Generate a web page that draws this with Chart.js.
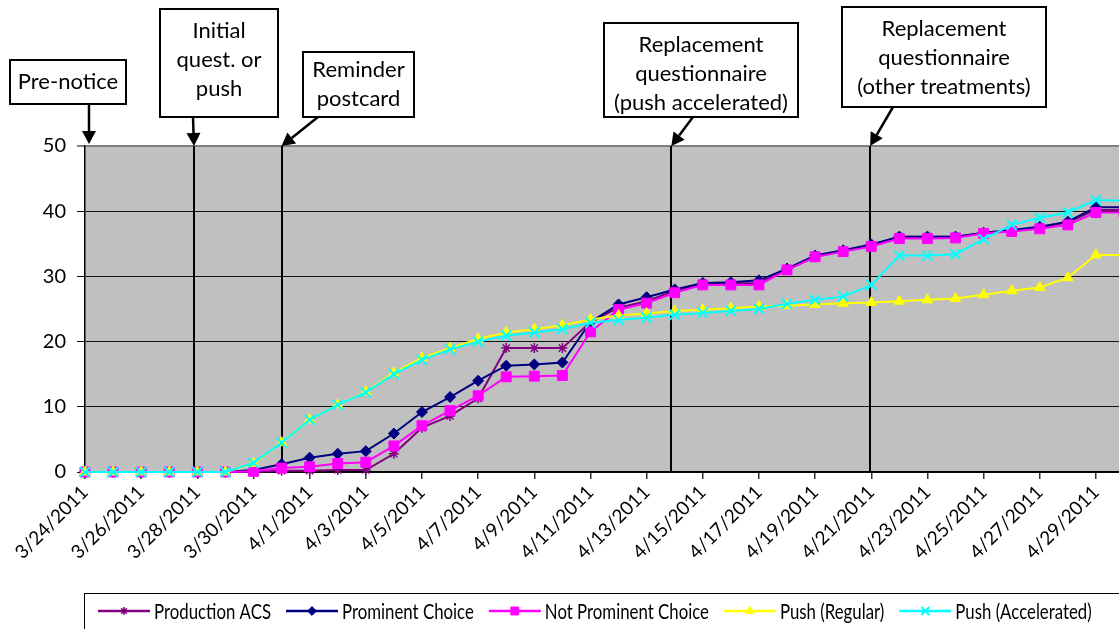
<!DOCTYPE html>
<html><head><meta charset="utf-8">
<script src="https://cdn.jsdelivr.net/npm/chart.js@4.4.0/dist/chart.umd.min.js"></script>
<style>
html,body{margin:0;padding:0;overflow:hidden;background:#fff;width:1119px;height:629px}
canvas{display:block}
</style></head>
<body><canvas id="c" width="1150" height="629"></canvas>
<script>
const dates = ['3/24/2011','3/25/2011','3/26/2011','3/27/2011','3/28/2011','3/29/2011','3/30/2011','3/31/2011',
  '4/1/2011','4/2/2011','4/3/2011','4/4/2011','4/5/2011','4/6/2011','4/7/2011','4/8/2011','4/9/2011','4/10/2011',
  '4/11/2011','4/12/2011','4/13/2011','4/14/2011','4/15/2011','4/16/2011','4/17/2011','4/18/2011','4/19/2011',
  '4/20/2011','4/21/2011','4/22/2011','4/23/2011','4/24/2011','4/25/2011','4/26/2011','4/27/2011','4/28/2011',
  '4/29/2011','4/30/2011'];

const productionACS = [0,0,0,0,0,0,0,0.2,0.2,0.3,0.3,2.8,6.8,8.6,11.3,19.0,19.0,19.0,23.0,25.2,26.2,27.8,28.9,28.9,29.0,
  31.0,33.0,33.9,34.8,36.1,36.1,36.1,36.6,37.0,37.5,38.3,40.2,40.2];
const prominentChoice = [0,0,0,0,0,0,0.3,1.2,2.2,2.8,3.2,5.9,9.2,11.5,14.0,16.3,16.5,16.8,23.0,25.7,26.8,28.0,29.0,29.1,29.4,
  31.2,33.2,34.0,34.9,36.1,36.1,36.1,36.7,37.1,37.6,38.4,40.6,40.6];
const notProminentChoice = [0,0,0,0,0,0,0.1,0.6,0.8,1.3,1.5,4.0,7.1,9.4,11.7,14.6,14.7,14.8,21.5,24.9,25.9,27.5,28.7,28.7,28.7,
  31.0,33.0,33.8,34.6,35.8,35.8,35.9,36.6,36.9,37.3,37.9,39.8,39.8];
const pushRegular = [0,0,0,0,0,0,1.3,4.5,8.0,10.3,12.3,15.2,17.5,19.0,20.4,21.4,21.9,22.5,23.4,24.0,24.3,24.7,24.9,25.1,25.4,
  25.5,25.7,25.9,26.0,26.2,26.4,26.6,27.2,27.8,28.3,29.8,33.3,33.3];
const pushAccelerated = [0,0,0,0,0,0,1.4,4.5,8.0,10.3,12.2,15.0,17.2,18.8,20.0,20.9,21.4,21.9,22.9,23.3,23.7,24.1,24.4,24.7,25.0,
  25.8,26.4,26.9,28.7,33.2,33.2,33.4,35.7,37.9,39.0,39.8,41.7,41.6];

const seriesNames = ['Production ACS','Prominent Choice','Not Prominent Choice','Push (Regular)','Push (Accelerated)'];
const yTicks = [0,10,20,30,40,50];

// mailing events: label lines and position on the day axis (index into dates)
const eventLabels = [['Pre-notice'],['Initial','quest. or','push'],['Reminder','postcard'],
  ['Replacement','questionnaire','(push accelerated)'],['Replacement','questionnaire','(other treatments)']];
const eventPositions = [0, 3.88, 7.0, 20.88, 27.96];

const FONT = 'Lato, "Open Sans", sans-serif';

const styles = [
  {color:'#800080', point:'star', r:5, pbw:1.5},
  {color:'#000080', point:'rectRot', r:5.5, pbw:1},
  {color:'#FF00FF', point:'rect', r:7, pbw:1},
  {color:'#FFFF00', point:'triangle', r:6, pbw:1},
  {color:'#00FFFF', point:'crossRot', r:7, pbw:2}
];
const seriesData = [productionACS, prominentChoice, notProminentChoice, pushRegular, pushAccelerated];

const datasets = seriesNames.map((n,i)=>({
  label:n, data:seriesData[i], borderColor:styles[i].color, backgroundColor:styles[i].color,
  borderWidth:2, pointStyle:styles[i].point, pointRadius:styles[i].r, pointBorderWidth:styles[i].pbw,
  pointBackgroundColor:styles[i].color, pointBorderColor:styles[i].color, tension:0, order:5-i, clip:false
}));

// annotation box geometry (pixels on the page)
const boxes = [
  {x:10, y:60, w:116, h:44, ty:82, ax:89, ay:104, tipDx:4, tipDy:-2},
  {x:160, y:9, w:118, h:108, ty:31, ax:193, ay:117, tipDx:0, tipDy:0},
  {x:303, y:52, w:111, h:65, ty:70, ax:318, ay:117, tipDx:0, tipDy:0},
  {x:604, y:23, w:194, h:94, ty:45, ax:693, ay:117, tipDx:0, tipDy:0},
  {x:842, y:7, w:204, h:100, ty:29, ax:893, ay:107, tipDx:0, tipDy:0}
];

function arrow(ctx, x1,y1,x2,y2){
  const ang = Math.atan2(y2-y1, x2-x1), hl=13, hw=7;
  const bx = x2 - hl*Math.cos(ang), by = y2 - hl*Math.sin(ang);
  ctx.beginPath(); ctx.moveTo(x1,y1); ctx.lineTo(bx,by); ctx.lineWidth=2.5; ctx.strokeStyle='#000'; ctx.stroke();
  ctx.beginPath(); ctx.moveTo(x2,y2);
  ctx.lineTo(bx + hw*Math.sin(ang), by - hw*Math.cos(ang));
  ctx.lineTo(bx - hw*Math.sin(ang), by + hw*Math.cos(ang));
  ctx.closePath(); ctx.fillStyle='#000'; ctx.fill();
}

const bgPlugin = {
  id:'bg',
  beforeDraw(chart){
    const {ctx, chartArea:a} = chart;
    ctx.save(); ctx.fillStyle='#C0C0C0'; ctx.fillRect(a.left, a.top, a.right-a.left, a.bottom-a.top); ctx.restore();
  },
  beforeDatasetsDraw(chart){
    const {ctx, chartArea:a, scales:{x}} = chart;
    ctx.save(); ctx.strokeStyle='#000'; ctx.lineWidth=2;
    eventPositions.forEach((p,i)=>{
      if (i===0) return;
      const px = Math.round(x.getPixelForValue(p));
      ctx.beginPath(); ctx.moveTo(px, a.top); ctx.lineTo(px, a.bottom); ctx.stroke();
    });
    ctx.restore();
  },
  afterDraw(chart){
    const {ctx, chartArea:a, scales:{x}} = chart;
    ctx.save();
    boxes.forEach((b,i)=>{
      ctx.fillStyle='#fff'; ctx.fillRect(b.x,b.y,b.w,b.h);
      ctx.strokeStyle='#000'; ctx.lineWidth=2; ctx.strokeRect(b.x,b.y,b.w,b.h);
      ctx.fillStyle='#000'; ctx.font='22px '+FONT; ctx.textAlign='center'; ctx.textBaseline='middle';
      eventLabels[i].forEach((t,j)=> ctx.fillText(t, b.x+b.w/2, b.ty + j*29));
      const tipX = x.getPixelForValue(eventPositions[i]) + b.tipDx;
      arrow(ctx, b.ax, b.ay, tipX, a.top + b.tipDy);
    });
    // legend
    const ly = 611;
    ctx.strokeStyle='#000'; ctx.lineWidth=1;
    ctx.strokeRect(84.5, 593.5, 1100, 60);
    ctx.font='21px '+FONT; ctx.textAlign='left'; ctx.textBaseline='middle';
    const sx = 117 / ctx.measureText(seriesNames[0]).width;
    let cx = 98;
    seriesNames.forEach((n,i)=>{
      const st = styles[i];
      ctx.beginPath(); ctx.moveTo(cx, ly); ctx.lineTo(cx+52, ly); ctx.strokeStyle=st.color; ctx.lineWidth=2.5; ctx.stroke();
      ctx.fillStyle=st.color; ctx.strokeStyle=st.color; ctx.lineWidth=st.pbw;
      Chart.helpers.drawPoint(ctx, {pointStyle:st.point, radius:st.r*0.8, rotation:0, borderWidth:st.pbw}, cx+26, ly);
      ctx.fillStyle='#000';
      ctx.save(); ctx.translate(cx+56, ly); ctx.scale(sx,1); ctx.fillText(n, 0, 1); ctx.restore();
      cx += 56 + ctx.measureText(n).width*sx + 15;
    });
    ctx.restore();
  }
};

new Chart(document.getElementById('c'), {
  type:'line',
  data:{labels:dates, datasets},
  plugins:[bgPlugin],
  options:{
    responsive:false, animation:false, devicePixelRatio:1,
    layout:{padding:{top:146, right:26, left:0, bottom:0}},
    plugins:{legend:{display:false}, tooltip:{enabled:false}},
    scales:{
      x:{
        type:'category', offset:false,
        afterFit(s){ s.height = 157; },
        grid:{drawOnChartArea:false, drawTicks:true, tickLength:7, lineWidth:1.5,
          color:(c)=> (c.index%2===0 ? '#333' : 'rgba(0,0,0,0)')},
        border:{display:true, color:'#000', width:1.5},
        ticks:{autoSkip:false, maxRotation:45, minRotation:45, color:'#000', padding:2,
          font:{family:FONT, size:19},
          callback:(v,i)=> (i%2===0 ? dates[i] : '')}
      },
      y:{
        min:0, max:50,
        afterFit(s){ s.width = 85; },
        afterBuildTicks(s){ s.ticks = yTicks.map(v=>({value:v})); },
        grid:{drawTicks:true, tickLength:8,
          color:(c)=> (c.tick && c.tick.value===50 ? '#808080' : '#111'),
          lineWidth:(c)=> (c.tick && c.tick.value===50 ? 2 : 1)},
        border:{display:true, color:'#000', width:1.5},
        ticks:{color:'#000', padding:11, font:{family:FONT, size:20}}
      }
    }
  }
});
</script>
</body></html>
